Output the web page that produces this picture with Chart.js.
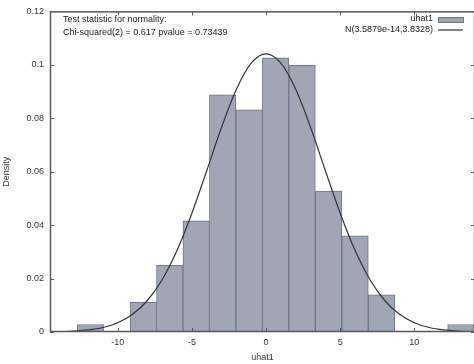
<!DOCTYPE html>
<html><head><meta charset="utf-8">
<script src="https://cdn.jsdelivr.net/npm/chart.js@4.4.1/dist/chart.umd.min.js"></script>
<style>html,body{margin:0;padding:0;background:#fff;overflow:hidden;width:474px;height:364px}</style>
</head><body>
<canvas id="c" width="478" height="364" style="width:478px;height:364px;display:block"></canvas>
<script>
// ---- data ----
const binCenters = [-11.85,-10.065,-8.28,-6.495,-4.71,-2.925,-1.14,0.645,2.43,4.215,6.0,7.785,9.57,11.355,13.14];
const densities  = [0.0028,0,0.0111,0.025,0.0416,0.0888,0.0832,0.1026,0.0998,0.0527,0.036,0.0139,0,0,0.0028];
const curveX = [-15,-14,-13,-12,-11,-10,-9,-8,-7,-6,-5,-4,-3,-2,-1,0,1,2,3,4,5,6,7,8,9,10,11,12,13,14,15];
const curveY = [0.00005,0.00013,0.00033,0.00077,0.00169,0.00346,0.00661,0.01179,0.01964,0.03057,0.04445,0.06038,0.07662,0.09084,0.10061,0.10409,0.10061,0.09084,0.07662,0.06038,0.04445,0.03057,0.01964,0.01179,0.00661,0.00346,0.00169,0.00077,0.00033,0.00013,0.00005];
const xTicks = [-10,-5,0,5,10];
const xTickLabels = ['-10','-5','0','5','10'];
const yTicks = [0,0.02,0.04,0.06,0.08,0.1,0.12];
const yTickLabels = ['0','0.02','0.04','0.06','0.08','0.1','0.12'];
const seriesNames = ['uhat1','N(3.5879e-14,3.8328)'];
const noteLines = ['Test statistic for normality:','Chi-squared(2) = 0.617 pvalue = 0.73439'];
const xTitle = 'uhat1';
const yTitle = 'Density';

const FONT = "'Liberation Sans', Arial, sans-serif";
const BAR_FILL = 'rgb(160,166,182)';
const BAR_EDGE = 'rgb(112,118,138)';
const LINE_COL = '#333';

const decor = {
  id: 'decor',
  afterDatasetsDraw(chart) {
    const {ctx, chartArea: a, scales: {x, y}} = chart;
    ctx.save();
    ctx.strokeStyle = '#5a5a5a';
    ctx.lineWidth = 1.5;
    ctx.strokeRect(a.left + 0.5, a.top + 0.5, a.right - a.left - 1, a.bottom - a.top - 1);
    ctx.lineWidth = 1;
    ctx.beginPath();
    xTicks.forEach(v => {
      const px = Math.round(x.getPixelForValue(v)) + 0.5;
      ctx.moveTo(px, a.bottom); ctx.lineTo(px, a.bottom - 4);
      ctx.moveTo(px, a.top); ctx.lineTo(px, a.top + 4);
    });
    yTicks.forEach(v => {
      const py = Math.round(y.getPixelForValue(v)) + 0.5;
      ctx.moveTo(a.left, py); ctx.lineTo(a.left + 4, py);
      ctx.moveTo(a.right, py); ctx.lineTo(a.right - 4, py);
    });
    ctx.stroke();
    // annotation
    ctx.fillStyle = '#222';
    ctx.font = '9px ' + FONT;
    ctx.textBaseline = 'middle';
    ctx.textAlign = 'left';
    ctx.fillText(noteLines[0], 63, 20);
    ctx.fillText(noteLines[1], 63, 33);
    // legend
    ctx.textAlign = 'right';
    ctx.fillText(seriesNames[0], 433, 19);
    ctx.fillText(seriesNames[1], 433, 30);
    ctx.fillStyle = BAR_FILL;
    ctx.fillRect(438, 17, 25, 5);
    ctx.strokeStyle = BAR_EDGE;
    ctx.strokeRect(438.5, 17.5, 25, 5);
    ctx.strokeStyle = LINE_COL;
    ctx.lineWidth = 1.2;
    ctx.beginPath(); ctx.moveTo(438, 30); ctx.lineTo(463, 30); ctx.stroke();
    ctx.restore();
  }
};

new Chart(document.getElementById('c'), {
  type: 'bar',
  data: {
    datasets: [
      {
        type: 'line',
        label: seriesNames[1],
        data: curveX.map((v, i) => ({x: v, y: curveY[i]})),
        borderColor: LINE_COL,
        borderWidth: 1.2,
        pointRadius: 0,
        fill: false,
        cubicInterpolationMode: 'monotone',
        order: 0
      },
      {
        type: 'bar',
        label: seriesNames[0],
        data: binCenters.map((v, i) => ({x: v, y: densities[i] === 0 ? null : densities[i]})),
        backgroundColor: BAR_FILL,
        borderColor: BAR_EDGE,
        borderWidth: 1,
        borderSkipped: false,
        barPercentage: 1,
        categoryPercentage: 1,
        order: 1
      }
    ]
  },
  options: {
    responsive: false,
    devicePixelRatio: 1,
    animation: false,
    layout: {padding: {top: 11, right: 3, left: 0, bottom: 0}},
    plugins: {legend: {display: false}, tooltip: {enabled: false}},
    scales: {
      x: {
        type: 'linear',
        min: -14.57,
        max: 14.09,
        offset: false,
        grid: {display: false, drawTicks: false},
        border: {display: false},
        afterBuildTicks: s => { s.ticks = xTicks.map(v => ({value: v})); },
        afterFit: s => { s.height = 32; },
        ticks: {
          padding: 5,
          color: '#333',
          font: {family: FONT, size: 9},
          maxRotation: 0,
          autoSkip: false,
          callback: (v, i) => xTickLabels[i]
        },
        title: {display: true, text: xTitle, color: '#333', font: {family: FONT, size: 9}, padding: {top: 0, bottom: 1}}
      },
      y: {
        type: 'linear',
        min: 0,
        max: 0.12,
        grid: {display: false, drawTicks: false},
        border: {display: false},
        afterBuildTicks: s => { s.ticks = yTicks.map(v => ({value: v})); },
        afterFit: s => { s.width = 50; },
        ticks: {
          padding: 6,
          color: '#333',
          font: {family: FONT, size: 9},
          autoSkip: false,
          callback: (v, i) => yTickLabels[i]
        },
        title: {display: true, text: yTitle, color: '#333', font: {family: FONT, size: 9}, padding: {top: 1, bottom: 0}}
      }
    }
  },
  plugins: [decor]
});
</script>
</body></html>
